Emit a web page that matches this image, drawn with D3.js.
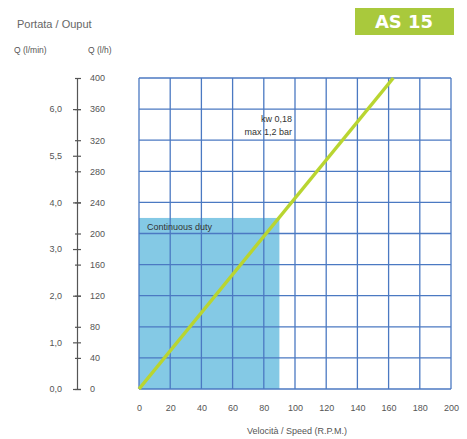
<!DOCTYPE html>
<html><head><meta charset="utf-8">
<script src="https://cdn.jsdelivr.net/npm/d3@7"></script>
<style>body{margin:0;background:#fff;} svg{display:block;font-family:"Liberation Sans",Arial,sans-serif;}</style>
</head><body>
<script>
const speedTicks = [0,20,40,60,80,100,120,140,160,180,200];
const flowLhTicks = [0,40,80,120,160,200,240,280,320,360,400];
const flowLminPos = [0,60,120,180,240,300,360];
const flowLminLabels = ["0,0","1,0","2,0","3,0","4,0","5,5","6,0"];
const curveSpeed = [0,163];
const curveFlow = [0,400];
const dutySpeed = [0,90];
const dutyFlow = [0,220];

const W=467,H=439;
const svg=d3.select("body").append("svg").attr("width",W).attr("height",H);
const x=d3.scaleLinear().domain([0,200]).range([139,451]);
const y=d3.scaleLinear().domain([0,400]).range([389,78]);
const grey="#555", gridC="#4b79c2";

// badge
svg.append("rect").attr("x",355).attr("y",8).attr("width",99).attr("height",27).attr("fill","#a9c93c");
svg.append("text").attr("x",404).attr("y",28).attr("text-anchor","middle").attr("fill","#fff")
  .attr("font-size",18).attr("font-weight","bold").attr("font-family","'DejaVu Sans',sans-serif").text("AS 15");

// titles
svg.append("text").attr("x",17).attr("y",28).attr("font-size",11).attr("fill","#666").text("Portata / Ouput");
svg.append("text").attr("x",14).attr("y",53).attr("font-size",8.5).attr("fill","#555").text("Q (l/min)");
svg.append("text").attr("x",88).attr("y",53).attr("font-size",8.5).attr("fill","#555").text("Q (l/h)");

// duty region
svg.append("rect").attr("x",x(dutySpeed[0])).attr("y",y(dutyFlow[1]))
  .attr("width",x(dutySpeed[1])-x(dutySpeed[0])).attr("height",y(dutyFlow[0])-y(dutyFlow[1]))
  .attr("fill","#84c9e5");

// grid
const g=svg.append("g").attr("stroke",gridC).attr("stroke-width",1.3);
speedTicks.forEach(v=>g.append("line").attr("x1",x(v)).attr("x2",x(v)).attr("y1",y(0)).attr("y2",y(400)));
flowLhTicks.forEach(v=>g.append("line").attr("y1",y(v)).attr("y2",y(v)).attr("x1",x(0)).attr("x2",x(200)));

// annotations
svg.append("text").attr("x",147).attr("y",230).attr("font-size",9).attr("fill","#333").text("Continuous duty");
svg.append("text").attr("x",292).attr("y",122).attr("text-anchor","end").attr("font-size",9).attr("fill","#333").text("kw 0,18");
svg.append("text").attr("x",292).attr("y",135).attr("text-anchor","end").attr("font-size",9).attr("fill","#333").text("max 1,2 bar");

// curve
const pts=curveSpeed.map((s,i)=>[s,curveFlow[i]]);
svg.append("path").datum(pts).attr("d",d3.line().x(d=>x(d[0])).y(d=>y(d[1])))
  .attr("stroke","#b9d530").attr("stroke-width",3.5).attr("fill","none");

// x axis labels
const xa=svg.append("g").attr("transform","translate(0,395)")
  .call(d3.axisBottom(x).tickValues(speedTicks).tickSize(0).tickPadding(10).tickFormat(d3.format("d")));
xa.select(".domain").remove();
xa.selectAll("text").attr("font-size",9).attr("fill","#555").attr("font-family","'Liberation Sans',Arial,sans-serif");
svg.append("text").attr("x",297).attr("y",434).attr("text-anchor","middle").attr("font-size",9).attr("fill","#555").text("Velocità / Speed (R.P.M.)");

// left axis (l/h)
const axX=77;
const la=svg.append("g").attr("transform",`translate(${axX},0)`)
  .call(d3.axisRight(y).tickValues(flowLhTicks).tickSize(4).tickPadding(9).tickSizeOuter(0));
la.select(".domain").attr("stroke",grey).attr("stroke-width",1.2);
la.selectAll(".tick line").attr("stroke",grey).attr("stroke-width",1.2).attr("x1",-2);
la.selectAll("text").attr("font-size",9).attr("fill","#555").attr("font-family","'Liberation Sans',Arial,sans-serif");

// l/min axis
const lm=svg.append("g").attr("transform",`translate(${axX},0)`)
  .call(d3.axisLeft(y).tickValues(flowLminPos).tickSize(4).tickPadding(11)
  .tickFormat((d,i)=>flowLminLabels[i]));
lm.select(".domain").remove();
lm.selectAll(".tick line").attr("stroke",grey).attr("stroke-width",1.2).attr("x2",-4).attr("x1",4);
lm.selectAll("text").attr("font-size",9).attr("fill","#555").attr("font-family","'Liberation Sans',Arial,sans-serif");
</script>
</body></html>
